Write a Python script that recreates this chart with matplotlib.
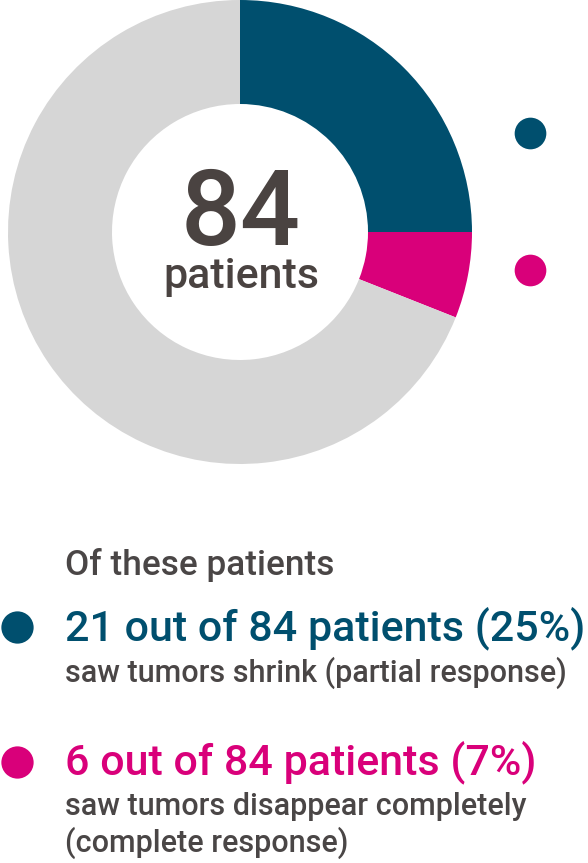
import matplotlib.pyplot as plt

# chart data
total = 84
labels = ["Partial response", "Complete response", "Other"]
slices = [25, 6, 69]  # share of ring as drawn
colors = ["#004f6e", "#d9007a", "#d6d6d6"]
headline = ["21 out of 84 patients (25%)", "6 out of 84 patients (7%)"]
detail = [["saw tumors shrink (partial response)"],
          ["saw tumors disappear completely", "(complete response)"]]

W, H = 588, 863
text_grey = "#4a4646"
plt.rcParams["font.family"] = ["Roboto", "DejaVu Sans"]

fig = plt.figure(figsize=(W / 100, H / 100), dpi=100)
ax = fig.add_axes([0, 0, 1, 1])

# donut
ax.pie(slices, colors=colors, radius=232, center=(240, H - 232),
       startangle=90, counterclock=False,
       wedgeprops=dict(width=104, linewidth=0))
ax.set_xlim(0, W)
ax.set_ylim(0, H)
ax.set_aspect("equal")
ax.axis("off")

ax.text(241, H - 245, str(total), ha="center", va="baseline",
        fontsize=76, fontweight="medium", color="#4a4341")
ax.text(241, H - 288, "patients", ha="center", va="baseline",
        fontsize=31, fontweight="medium", color="#4a4341")

# small markers on the right
for y, c in zip([133, 270], colors[:2]):
    ax.scatter(530, H - y, s=520, color=c, linewidths=0)

# legend text
ax.text(65, H - 575, "Of these patients", ha="left", va="baseline",
        fontsize=25.3, fontweight="medium", color=text_grey)

dot_y = [627, 762]
head_base = [640, 774]
detail_base = [[682], [815, 852]]
for i in range(2):
    ax.scatter(17, H - dot_y[i], s=540, color=colors[i], linewidths=0)
    ax.text(65, H - head_base[i], headline[i], ha="left", va="baseline",
            fontsize=31, fontweight="medium", color=colors[i])
    for line, yb in zip(detail[i], detail_base[i]):
        ax.text(65, H - yb, line, ha="left", va="baseline",
                fontsize=22, fontweight="medium", color=text_grey)

fig.savefig("out.png", dpi=100)
